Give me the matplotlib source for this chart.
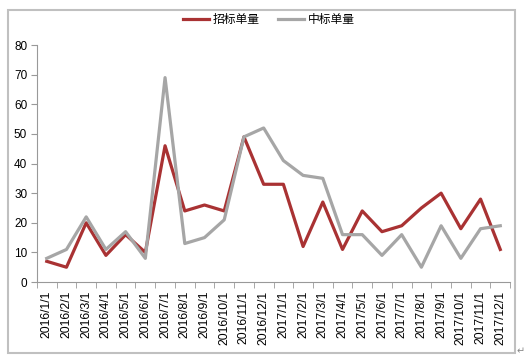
import matplotlib
matplotlib.use("Agg")
import matplotlib.pyplot as plt
from matplotlib.patches import Rectangle

# monthly order counts
months = ["2016/1/1", "2016/2/1", "2016/3/1", "2016/4/1", "2016/5/1", "2016/6/1",
          "2016/7/1", "2016/8/1", "2016/9/1", "2016/10/1", "2016/11/1", "2016/12/1",
          "2017/1/1", "2017/2/1", "2017/3/1", "2017/4/1", "2017/5/1", "2017/6/1",
          "2017/7/1", "2017/8/1", "2017/9/1", "2017/10/1", "2017/11/1", "2017/12/1"]
bids = [7, 5, 20, 9, 16, 10, 46, 24, 26, 24, 49, 33,
        33, 12, 27, 11, 24, 17, 19, 25, 30, 18, 28, 11]
wins = [8, 11, 22, 11, 17, 8, 69, 13, 15, 21, 49, 52,
        41, 36, 35, 16, 16, 9, 16, 5, 19, 8, 18, 19]
y_ticks = [0, 10, 20, 30, 40, 50, 60, 70, 80]

plt.rcParams['font.family'] = ['Liberation Sans', 'DejaVu Sans']

fig = plt.figure(figsize=(5.27, 3.63), dpi=100)
ax = fig.add_axes([0.070, 0.223, 0.898, 0.653])

x = range(len(months))
ax.plot(x, bids, color="#a93233", lw=2.3, label="招标单量")
ax.plot(x, wins, color="#a6a6a6", lw=2.3, label="中标单量")

ax.set_xlim(-0.5, len(months) - 0.5)
ax.set_ylim(0, 80)
ax.set_yticks(y_ticks)
ax.set_xticks(list(x))
ax.set_xticklabels(months, rotation=90, fontsize=8.8)
ax.set_xticks([i - 0.5 for i in range(len(months) + 1)], minor=True)
ax.tick_params(axis="x", which="major", length=0, pad=6)
ax.tick_params(axis="x", which="minor", length=4, color="#999999")
ax.tick_params(axis="y", labelsize=8.5, length=4, color="#999999", pad=3)

for s in ["top", "right"]:
    ax.spines[s].set_visible(False)
for s in ["left", "bottom"]:
    ax.spines[s].set_color("#999999")
    ax.spines[s].set_linewidth(0.8)

leg = fig.legend(loc="center", bbox_to_anchor=(0.51, 0.947), ncol=2, frameon=False,
                 prop={"family": ["Noto Sans CJK SC"], "size": 8.5},
                 handlelength=2.2, handletextpad=0.3, columnspacing=1.6)

# outer frame
fig.patches.append(Rectangle((8 / 527, 1 - 353 / 363), 507 / 527, 343 / 363,
                             transform=fig.transFigure, fill=False,
                             edgecolor="#c0c0c0", lw=1.5))
fig.text(517 / 527, 1 - 351 / 363, "↵", fontsize=7, color="#888888",
         family="DejaVu Sans", ha="left", va="center")

fig.savefig("out.png", dpi=100)
